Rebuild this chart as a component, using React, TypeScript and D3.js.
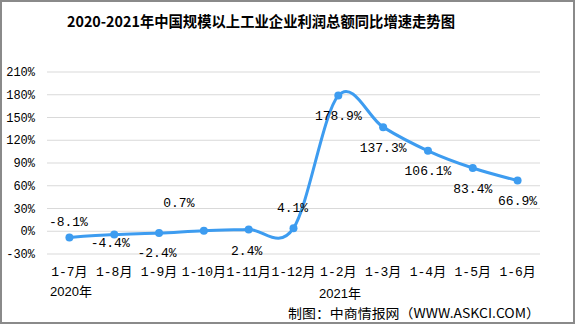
import React from "react";
import * as d3 from "d3";

const categories = ["1-7月", "1-8月", "1-9月", "1-10月", "1-11月", "1-12月", "1-2月", "1-3月", "1-4月", "1-5月", "1-6月"];
const values = [-8.1, -4.4, -2.4, 0.7, 2.4, 4.1, 178.9, 137.3, 106.1, 83.4, 66.9];
const yTicks = [-30, 0, 30, 60, 90, 120, 150, 180, 210];
const yearLabels = ["2020年", "2021年"];
const title = "2020-2021年中国规模以上工业企业利润总额同比增速走势图";
const source = "制图：中商情报网（WWW.ASKCI.COM）";

// label offsets relative to each point (layout only)
const labelOffsets: [number, number][] = [
  [-1, -16], [-4, 8], [-2, 19], [-25, -28], [-2, 21], [-1, -21],
  [0, 20], [0, 20], [0, 20], [0, 20], [0, 20],
];

const W = 576;
const H = 326;
const left = 47;
const right = 540;
const color = "#3d9cf0";
const monoFont = "'Liberation Mono', 'DejaVu Sans Mono', monospace";
const cjkFont = "'Liberation Mono', 'Noto Sans CJK SC', monospace";

export default function App() {
  const x = d3.scaleBand<string>().domain(categories).range([left, right]);
  const y = d3.scaleLinear().domain([-30, 210]).range([254, 72]);
  const cx = (i: number) => (x(categories[i]) as number) + x.bandwidth() / 2;
  const line = d3
    .line<number>()
    .x((_, i) => cx(i))
    .y((d) => y(d))
    .curve(d3.curveCardinal.tension(0));
  const path = line(values) || "";

  return (
    <svg width={W} height={H} style={{ position: "absolute", left: 0, top: 0, background: "#fff" }}>
      <rect x={1} y={1} width={W - 3} height={H - 4} fill="#fff" stroke="#8a8a8a" strokeWidth={2} />
      <text x={261} y={27} textAnchor="middle" fontFamily="'Noto Sans CJK SC', sans-serif" fontWeight="bold" fontSize={15} fill="#000" textLength={388} lengthAdjust="spacingAndGlyphs">
        {title}
      </text>
      {yTicks.map((t) => (
        <g key={t}>
          <line x1={left} x2={right} y1={y(t)} y2={y(t)} stroke="#d9d9d9" strokeWidth={1} />
          <text x={35} y={y(t)} dy="0.35em" textAnchor="end" fontFamily={monoFont} fontSize={12} fill="#000">
            {t}%
          </text>
        </g>
      ))}
      <path d={path} fill="none" stroke={color} strokeWidth={3} />
      {values.map((v, i) => (
        <circle key={i} cx={cx(i)} cy={y(v)} r={4} fill={color} />
      ))}
      {values.map((v, i) => (
        <text key={"l" + i} x={cx(i) + labelOffsets[i][0]} y={y(v) + labelOffsets[i][1]} dy="0.35em" textAnchor="middle" fontFamily={monoFont} fontSize={13} fill="#000">
          {v.toFixed(1)}%
        </text>
      ))}
      {categories.map((c) => (
        <text key={c} x={(x(c) as number) + x.bandwidth() / 2} y={276} textAnchor="middle" fontFamily={cjkFont} fontSize={13} fill="#000">
          {c}
        </text>
      ))}
      <text x={71} y={296} textAnchor="middle" fontFamily="'Liberation Sans', 'Noto Sans CJK SC', sans-serif" fontSize={13} fill="#000">
        {yearLabels[0]}
      </text>
      <text x={340} y={298} textAnchor="middle" fontFamily="'Liberation Sans', 'Noto Sans CJK SC', sans-serif" fontSize={13} fill="#000">
        {yearLabels[1]}
      </text>
      <text x={288} y={318} fontFamily="'Noto Sans CJK SC', sans-serif" fontSize={13} fill="#000" textLength={252} lengthAdjust="spacingAndGlyphs">
        {source}
      </text>
    </svg>
  );
}
